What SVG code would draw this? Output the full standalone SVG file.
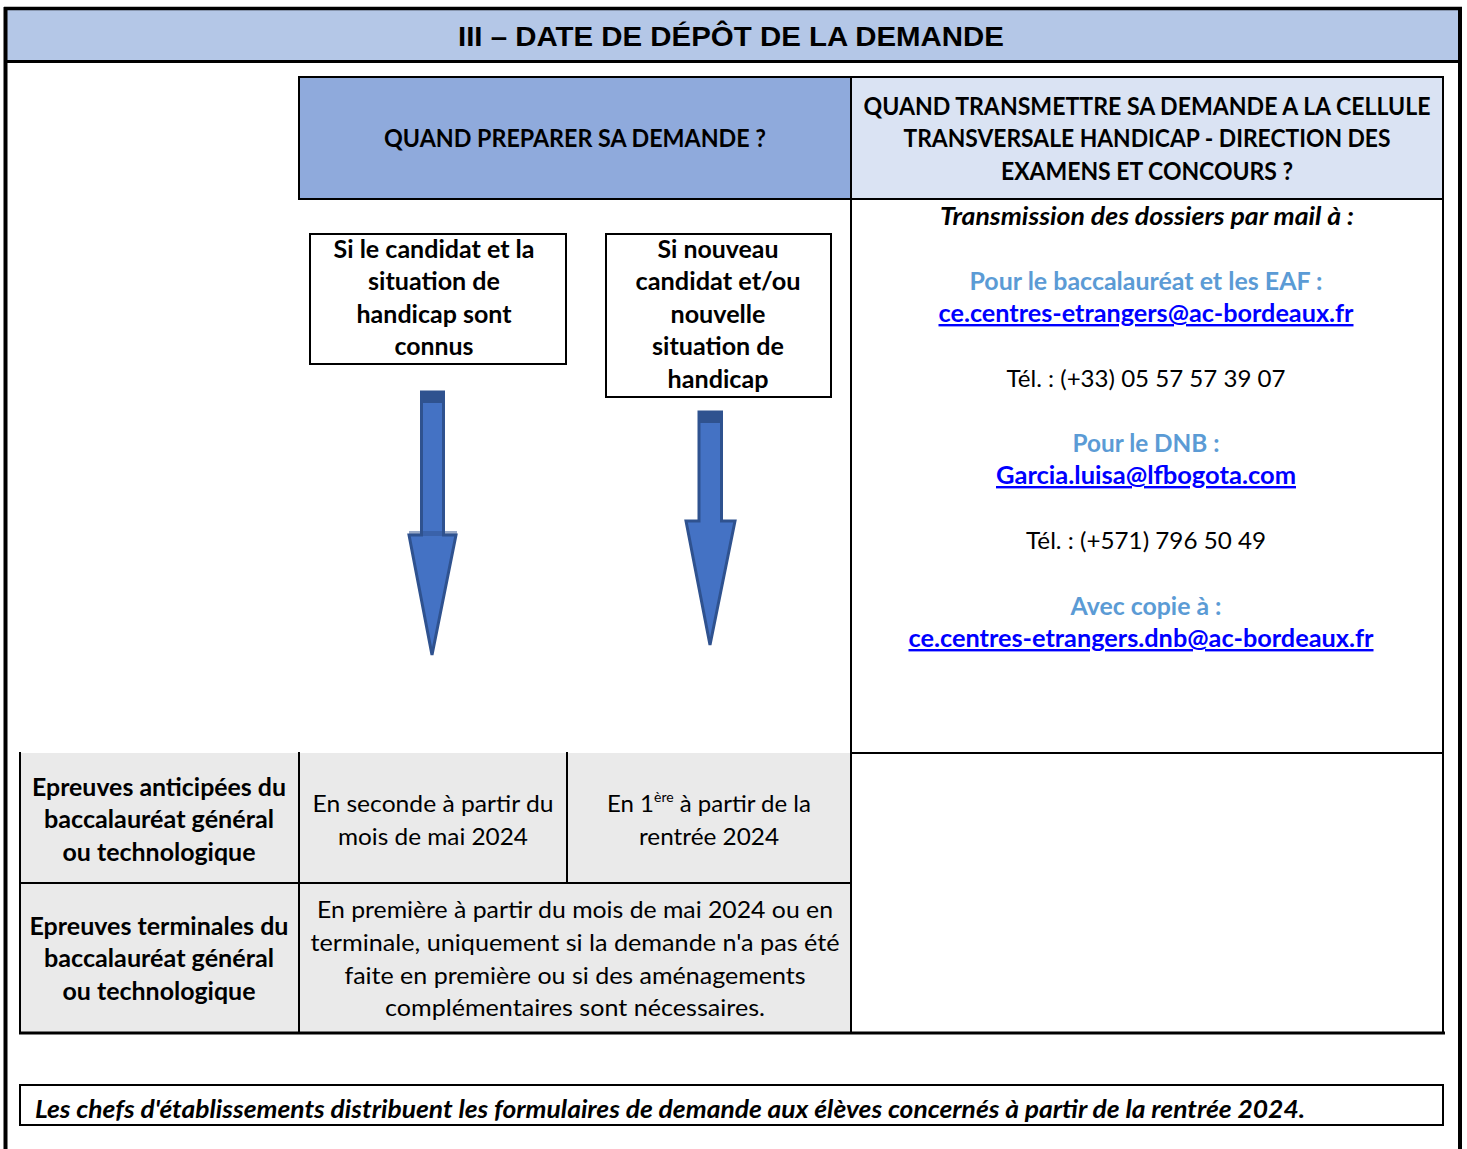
<svg xmlns="http://www.w3.org/2000/svg" width="1467" height="1149" viewBox="0 0 1467 1149">
<style>
.t{font-family:Lato,"Open Sans","Liberation Sans",sans-serif;font-size:24px;fill:#000;text-anchor:middle}
.b{font-weight:bold}
.i{font-style:italic}
.lb{fill:#5B9BD5;font-weight:bold}
.lk{fill:#0000FF;font-weight:bold;text-decoration:underline}
.title{font-family:"Liberation Sans",Arial,sans-serif;font-size:28px;font-weight:bold;text-anchor:middle;fill:#000}
.box{stroke:#000;stroke-width:2}
.ln{stroke:#000;stroke-width:2;fill:none}
.arrow{fill:#4472C4;stroke:#2F528F;stroke-width:3;stroke-linejoin:miter}
</style>
<rect width="1467" height="1149" fill="#fff"/>
<g id="frame">
<rect x="6" y="8.5" width="1454" height="52" fill="#B4C7E7"/>
<line x1="5.5" y1="7" x2="5.5" y2="1149" stroke="#000" stroke-width="4"/>
<line x1="1460" y1="7" x2="1460" y2="1149" stroke="#000" stroke-width="4"/>
<line x1="4" y1="8.5" x2="1462" y2="8.5" stroke="#000" stroke-width="3.5"/>
<line x1="4" y1="61.5" x2="1462" y2="61.5" stroke="#000" stroke-width="3"/>
<text class="title" x="731" y="46" textLength="546" lengthAdjust="spacingAndGlyphs">III – DATE DE DÉPÔT DE LA DEMANDE</text>
</g>
<g id="preparer-header">
<rect class="box" x="299" y="77" width="552" height="122" fill="#8FAADC"/>
<text class="t b" x="575" y="147" textLength="382" lengthAdjust="spacingAndGlyphs">QUAND PREPARER SA DEMANDE ?</text>
</g>
<g id="transmettre-header">
<rect class="box" x="851" y="77" width="592" height="122" fill="#DAE3F3"/>
<text class="t b" x="1147" y="115" textLength="567" lengthAdjust="spacingAndGlyphs">QUAND TRANSMETTRE SA DEMANDE A LA CELLULE</text>
<text class="t b" x="1147" y="147" textLength="487" lengthAdjust="spacingAndGlyphs">TRANSVERSALE HANDICAP - DIRECTION DES</text>
<text class="t b" x="1147" y="180" textLength="292" lengthAdjust="spacingAndGlyphs">EXAMENS ET CONCOURS ?</text>
</g>
<g id="transmission-content">
<rect class="box" x="851" y="199" width="592" height="554" fill="#fff"/>
<text class="t b i" x="1147" y="225" textLength="414" lengthAdjust="spacingAndGlyphs">Transmission des dossiers par mail à :</text>
<text class="t lb" x="1146" y="290" textLength="353" lengthAdjust="spacingAndGlyphs">Pour le baccalauréat et les EAF :</text>
<text class="t lk" x="1146" y="322" textLength="415" lengthAdjust="spacingAndGlyphs">ce.centres-etrangers@ac-bordeaux.fr</text>
<text class="t" x="1146" y="387" textLength="279" lengthAdjust="spacingAndGlyphs">Tél. : (+33) 05 57 57 39 07</text>
<text class="t lb" x="1146" y="452" textLength="147" lengthAdjust="spacingAndGlyphs">Pour le DNB :</text>
<text class="t lk" x="1146" y="484" textLength="300" lengthAdjust="spacingAndGlyphs">Garcia.luisa@lfbogota.com</text>
<text class="t" x="1146" y="549" textLength="240" lengthAdjust="spacingAndGlyphs">Tél. : (+571) 796 50 49</text>
<text class="t lb" x="1146" y="615" textLength="151" lengthAdjust="spacingAndGlyphs">Avec copie à :</text>
<text class="t lk" x="1141" y="647" textLength="465" lengthAdjust="spacingAndGlyphs">ce.centres-etrangers.dnb@ac-bordeaux.fr</text>
</g>
<g id="case-connus">
<rect class="box" x="310" y="234" width="256" height="130" fill="#fff"/>
<text class="t b" x="434" y="258" textLength="201" lengthAdjust="spacingAndGlyphs">Si le candidat et la</text>
<text class="t b" x="434" y="290" textLength="132" lengthAdjust="spacingAndGlyphs">situation de</text>
<text class="t b" x="434" y="323" textLength="155" lengthAdjust="spacingAndGlyphs">handicap sont</text>
<text class="t b" x="434" y="355" textLength="79" lengthAdjust="spacingAndGlyphs">connus</text>
</g>
<g id="case-nouveau">
<rect class="box" x="606" y="234" width="225" height="163" fill="#fff"/>
<text class="t b" x="718" y="258" textLength="121" lengthAdjust="spacingAndGlyphs">Si nouveau</text>
<text class="t b" x="718" y="290" textLength="165" lengthAdjust="spacingAndGlyphs">candidat et/ou</text>
<text class="t b" x="718" y="323" textLength="95" lengthAdjust="spacingAndGlyphs">nouvelle</text>
<text class="t b" x="718" y="355" textLength="132" lengthAdjust="spacingAndGlyphs">situation de</text>
<text class="t b" x="718" y="388" textLength="101" lengthAdjust="spacingAndGlyphs">handicap</text>
</g>
<g id="connectors">
<polygon class="arrow" points="421.5,392 443.5,392 443.5,535 456,535 432,655 409,535 421.5,535"/>
<rect x="421" y="391" width="23" height="12" fill="#2F528F"/>
<rect x="409" y="531" width="48" height="5" fill="#2F528F" opacity="0.5"/>
<polygon class="arrow" points="699,412 721.5,412 721.5,521 735,521 710,645 686,521 699,521"/>
<rect x="698.5" y="411" width="23.5" height="12" fill="#2F528F"/>
</g>
<g id="table">
<rect x="20" y="753" width="279" height="130" fill="#EAEAEA"/>
<rect x="299" y="753" width="268" height="130" fill="#EAEAEA"/>
<rect x="567" y="753" width="284" height="130" fill="#EAEAEA"/>
<rect x="20" y="883" width="279" height="150" fill="#EAEAEA"/>
<rect x="299" y="883" width="552" height="150" fill="#EAEAEA"/>
<line class="ln" x1="20" y1="752" x2="20" y2="1034"/>
<line class="ln" x1="299" y1="752" x2="299" y2="1033"/>
<line class="ln" x1="567" y1="752" x2="567" y2="883"/>
<line class="ln" x1="851" y1="753" x2="851" y2="1033"/>
<line class="ln" x1="1443" y1="753" x2="1443" y2="1033"/>
<line class="ln" x1="19" y1="883" x2="852" y2="883"/>
<line class="ln" x1="851" y1="753" x2="1444" y2="753"/>
<line x1="19" y1="1033" x2="1445" y2="1033" stroke="#000" stroke-width="3"/>
</g>
<g id="row-anticipees">
<text class="t b" x="159" y="796" textLength="254" lengthAdjust="spacingAndGlyphs">Epreuves anticipées du</text>
<text class="t b" x="159" y="828" textLength="230" lengthAdjust="spacingAndGlyphs">baccalauréat général</text>
<text class="t b" x="159" y="861" textLength="193" lengthAdjust="spacingAndGlyphs">ou technologique</text>
<text class="t" x="433" y="812" textLength="241" lengthAdjust="spacingAndGlyphs">En seconde à partir du</text>
<text class="t" x="433" y="845" textLength="190" lengthAdjust="spacingAndGlyphs">mois de mai 2024</text>
<text class="t" x="709" y="812">En 1<tspan font-size="14" dy="-10">ère</tspan><tspan dy="10"> à partir de la</tspan></text>
<text class="t" x="709" y="845" textLength="140" lengthAdjust="spacingAndGlyphs">rentrée 2024</text>
</g>
<g id="row-terminales">
<text class="t b" x="159" y="935" textLength="259" lengthAdjust="spacingAndGlyphs">Epreuves terminales du</text>
<text class="t b" x="159" y="967" textLength="230" lengthAdjust="spacingAndGlyphs">baccalauréat général</text>
<text class="t b" x="159" y="1000" textLength="193" lengthAdjust="spacingAndGlyphs">ou technologique</text>
<text class="t" x="575" y="918" textLength="516" lengthAdjust="spacingAndGlyphs">En première à partir du mois de mai 2024 ou en</text>
<text class="t" x="575" y="951" textLength="529" lengthAdjust="spacingAndGlyphs">terminale, uniquement si la demande n'a pas été</text>
<text class="t" x="575" y="984" textLength="461" lengthAdjust="spacingAndGlyphs">faite en première ou si des aménagements</text>
<text class="t" x="575" y="1016" textLength="380" lengthAdjust="spacingAndGlyphs">complémentaires sont nécessaires.</text>
</g>
<g id="footer-note">
<rect class="box" x="20" y="1085" width="1423" height="40" fill="#fff"/>
<text class="t b i" x="35" y="1118" style="text-anchor:start" textLength="1270" lengthAdjust="spacingAndGlyphs">Les chefs d'établissements distribuent les formulaires de demande aux élèves concernés à partir de la rentrée 2024.</text>
</g>
</svg>
